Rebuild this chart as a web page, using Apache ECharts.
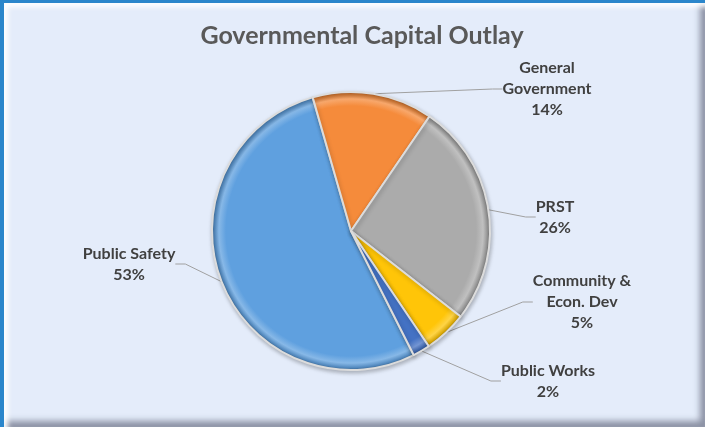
<!DOCTYPE html>
<html>
<head>
<meta charset="utf-8">
<script src="https://cdn.jsdelivr.net/npm/echarts@6/dist/echarts.min.js"></script>
<style>
  html, body { margin: 0; padding: 0; width: 705px; height: 427px; overflow: hidden; background: #2B86CB; }
  #panel {
    position: absolute; left: 4px; top: 3px; width: 701px; height: 424px;
    background: #E4ECFA;
    box-shadow: inset 4px 4px 5px rgba(255,255,255,0.95), inset -5px -6px 6px rgba(110,115,135,0.75);
  }
  #chart { position: absolute; left: 0; top: 0; width: 705px; height: 427px; }
</style>
</head>
<body>
<div id="panel"></div>
<div id="chart"></div>
<script>
// Capital outlay by function (share of total, %)
const categories = ['Public Safety', 'General\nGovernment', 'PRST', 'Community &\nEcon. Dev', 'Public Works'];
const shares = [53, 14, 26, 5, 2];
const sliceColors = ['#5FA0DF', '#F58B3B', '#ABABAB', '#FFC508', '#4472C4'];

// label block centres, per slice
const labelSpots = [[129, 264], [547, 89], [555, 217], [582, 302], [548, 381]];

const cx = 351, cy = 231, R = 139;

function shade(hex, k) {
  const n = parseInt(hex.slice(1), 16);
  let r = (n >> 16) & 255, g = (n >> 8) & 255, b = n & 255;
  const f = c => Math.max(0, Math.min(255, Math.round(k >= 0 ? c + (255 - c) * k : c * (1 + k))));
  return 'rgb(' + f(r) + ',' + f(g) + ',' + f(b) + ')';
}

function bevel(hex) {
  return {
    type: 'radial', x: cx, y: cy, r: R, global: true,
    colorStops: [
      { offset: 0, color: hex },
      { offset: 0.9, color: hex },
      { offset: 0.95, color: shade(hex, 0.25) },
      { offset: 0.985, color: shade(hex, -0.15) },
      { offset: 1, color: shade(hex, -0.35) }
    ]
  };
}

const chart = echarts.init(document.getElementById('chart'));
chart.setOption({
  backgroundColor: 'transparent',
  title: {
    text: 'Governmental Capital Outlay',
    left: 357, top: 18, textAlign: 'center',
    textStyle: { fontFamily: 'Lato', fontWeight: 'bold', fontSize: 25, color: '#595959' }
  },
  series: [{
    type: 'pie',
    center: [cx, cy],
    radius: [0, R],
    startAngle: 296.8,
    clockwise: true,
    animation: false,
    data: categories.map((name, i) => ({
      name: name,
      value: shares[i],
      itemStyle: { color: bevel(sliceColors[i]) }
    })),
    itemStyle: {
      borderColor: '#DCDCDC', borderWidth: 2,
      shadowColor: 'rgba(0,0,0,0.25)', shadowBlur: 4, shadowOffsetX: 1, shadowOffsetY: 2
    },
    label: {
      show: true,
      formatter: '{b}\n{d}%',
      fontFamily: 'Lato', fontWeight: 'bold', fontSize: 16,
      lineHeight: 21, color: '#404040', align: 'center'
    },
    labelLine: {
      show: true, length: 8, length2: 10,
      lineStyle: { color: '#A0A0A0', width: 1 }
    },
    labelLayout: function (p) {
      const s = labelSpots[p.dataIndex];
      return { x: s[0], y: s[1], align: 'center', verticalAlign: 'middle' };
    }
  }]
});
</script>
</body>
</html>
